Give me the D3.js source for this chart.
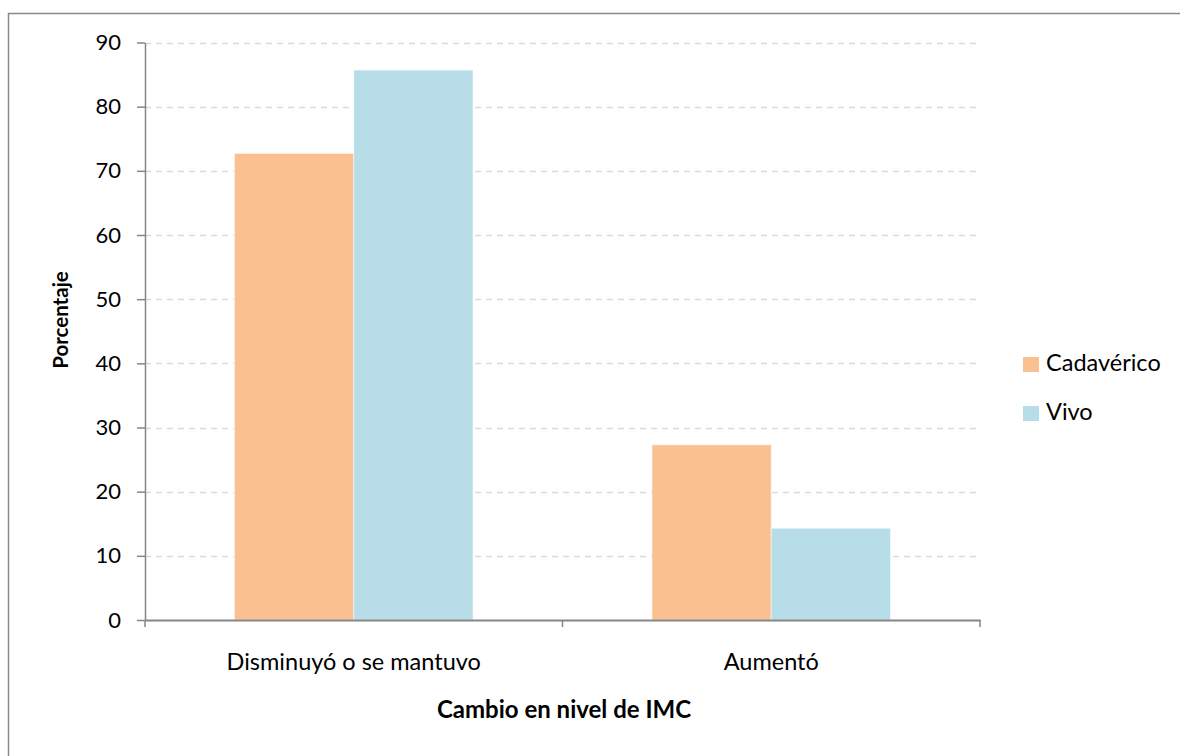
<!DOCTYPE html>
<html>
<head>
<meta charset="utf-8">
<script src="https://cdn.jsdelivr.net/npm/d3@7"></script>
<style>
  html, body { margin: 0; padding: 0; background: #fff; }
  svg { display: block; }
  text { font-family: Lato, "Open Sans", "Noto Sans", sans-serif; fill: #000; }
</style>
</head>
<body>
<svg id="chart" width="1180" height="756"></svg>
<script>
// Cambio en nivel de IMC por tipo de donante
const categories = ["Disminuyó o se mantuvo", "Aumentó"];
const seriesNames = ["Cadavérico", "Vivo"];
const cadavericoValues = [72.7, 27.3];
const vivoValues = [85.7, 14.3];
const yTicks = [0, 10, 20, 30, 40, 50, 60, 70, 80, 90];
const colors = ["#FAC090", "#B7DDE8"];

const svg = d3.select("#chart");

// outer chart frame (extends past the window on the right and bottom)
svg.append("rect")
  .attr("x", 8.5).attr("y", 13.5)
  .attr("width", 1300).attr("height", 900)
  .attr("fill", "none").attr("stroke", "#8a8a8a").attr("stroke-width", 1.5);

const plot = { left: 145, right: 980, top: 42.5, bottom: 620 };

const y = d3.scaleLinear().domain([0, 90]).range([plot.bottom, plot.top]);
const x0 = d3.scaleBand().domain(categories).range([plot.left, plot.right]).paddingInner(0).paddingOuter(0);
const x1 = d3.scaleBand().domain(seriesNames).range([0, x0.bandwidth()]).paddingInner(0).paddingOuter(0.75);

// dashed gridlines
svg.append("g")
  .selectAll("line")
  .data(yTicks.filter(d => d > 0))
  .join("line")
  .attr("x1", plot.left).attr("x2", plot.right)
  .attr("y1", d => Math.round(y(d)) + 0.5).attr("y2", d => Math.round(y(d)) + 0.5)
  .attr("stroke", "#d9d9d9").attr("stroke-width", 1.5)
  .attr("stroke-dasharray", "6,5");

// bars
const rows = categories.map((c, i) => ({
  category: c,
  values: [
    { series: seriesNames[0], value: cadavericoValues[i], color: colors[0] },
    { series: seriesNames[1], value: vivoValues[i], color: colors[1] }
  ]
}));

svg.append("g")
  .selectAll("g")
  .data(rows)
  .join("g")
  .attr("transform", d => `translate(${x0(d.category)},0)`)
  .selectAll("rect")
  .data(d => d.values)
  .join("rect")
  .attr("x", d => x1(d.series))
  .attr("width", x1.bandwidth())
  .attr("y", d => y(d.value))
  .attr("height", d => y(0) - y(d.value))
  .attr("fill", d => d.color)
  .attr("stroke", "#ffffff").attr("stroke-opacity", 0.5).attr("stroke-width", 1);

// y axis
const yAxis = svg.append("g")
  .attr("transform", `translate(${plot.left},0)`)
  .call(d3.axisLeft(y).tickValues(yTicks).tickSize(8).tickSizeOuter(0).tickPadding(16));
yAxis.select(".domain").attr("stroke", "#868686").attr("stroke-width", 1.5);
yAxis.selectAll(".tick line").attr("stroke", "#868686").attr("stroke-width", 1.5);
yAxis.selectAll(".tick text").style("font-size", "22px").attr("fill", "#000");

// x axis
const xAxis = svg.append("g")
  .attr("transform", `translate(0,${plot.bottom})`)
  .call(d3.axisBottom(x0).tickSize(0).tickPadding(33));
xAxis.select(".domain").attr("stroke", "#868686").attr("stroke-width", 2);
xAxis.selectAll(".tick text").style("font-size", "23.5px").attr("fill", "#000");

// category boundary tick marks on the x axis
const boundaries = [plot.left, plot.left + x0.bandwidth(), plot.right];
svg.append("g")
  .selectAll("line")
  .data(boundaries)
  .join("line")
  .attr("x1", d => d).attr("x2", d => d)
  .attr("y1", plot.bottom).attr("y2", plot.bottom + 7)
  .attr("stroke", "#868686").attr("stroke-width", 1.5);

// axis titles
svg.append("text")
  .attr("transform", `translate(68,320) rotate(-90)`)
  .attr("text-anchor", "middle")
  .style("font-size", "20.5px").style("font-weight", "bold")
  .text("Porcentaje");

svg.append("text")
  .attr("x", 564).attr("y", 718)
  .attr("text-anchor", "middle")
  .style("font-size", "24px").style("font-weight", "bold")
  .text("Cambio en nivel de IMC");

// legend
const legend = svg.append("g").attr("transform", "translate(1023,357)");
const items = legend.selectAll("g")
  .data(seriesNames)
  .join("g")
  .attr("transform", (d, i) => `translate(0,${i * 49})`);
items.append("rect")
  .attr("width", 16).attr("height", 15)
  .attr("fill", (d, i) => colors[i]);
items.append("text")
  .attr("x", 23).attr("y", 14)
  .style("font-size", "23.5px")
  .text(d => d);
</script>
</body>
</html>
